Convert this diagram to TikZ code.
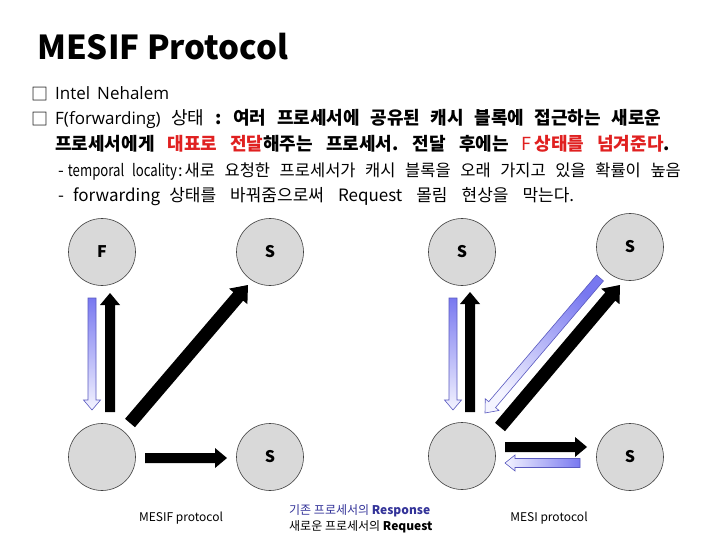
\documentclass[tikz,border=0pt]{standalone}
\usepackage{fontspec}
\usepackage{graphicx}
\setmainfont{Noto Sans CJK KR}
\newfontfamily\latf{Open Sans}
\usetikzlibrary{calc,arrows.meta}
\definecolor{redt}{HTML}{E02020}
\definecolor{respblue}{HTML}{333399}
\definecolor{arrblueD}{HTML}{7878F0}
\definecolor{arrblueL}{HTML}{F4F4FF}
\definecolor{arredge}{HTML}{5A5AC0}
\definecolor{circfill}{HTML}{D9D9D9}
\definecolor{circedge}{HTML}{404040}
% block arrow: #1 style, #2 tail, #3 tip, #4 half shaft, #5 half head, #6 head length (pt)
\newcommand\blockarr[6]{%
  \coordinate (bazneck) at ($(#3)!#6pt!(#2)$);
  \path[#1] ($(#2)!#4pt!90:(#3)$) -- ($(bazneck)!#4pt!90:(#3)$) -- ($(bazneck)!#5pt!90:(#3)$)
    -- (#3) -- ($(bazneck)!#5pt!-90:(#3)$) -- ($(bazneck)!#4pt!-90:(#3)$)
    -- ($(#2)!#4pt!-90:(#3)$) -- cycle;}
\newcommand\wsp[1]{\spaceskip=#1\relax}
\begin{document}
\begin{tikzpicture}[x=1pt,y=-1pt,
  proc/.style={circle, draw=circedge, line width=0.6pt, fill=circfill, minimum size=67pt, inner sep=0pt,
    font=\bfseries\fontsize{16}{16}\selectfont},
  txt/.style={anchor=west, inner sep=0pt},
  blackarr/.style={fill=black},
  bluearr/.style={draw=arredge, line width=0.6pt},
  captxt/.style={inner sep=0pt, font=\fontsize{12}{14}\selectfont}]
\useasboundingbox (0,0) rectangle (720,540);
\fill[white] (0,0) rectangle (720,540);

% title
\node[txt, font=\bfseries\fontsize{33}{40}\selectfont] (title) at (37,47) {MESIF Protocol};

% bullet lines
\node[txt, font=\fontsize{17}{20}\selectfont] (bx1) at (31,94) {□};
\node[txt, font=\latf\fontsize{17}{20}\selectfont] (l1) at (55,93) {Intel\hspace{7pt}Nehalem};
\node[txt, font=\fontsize{17}{20}\selectfont] (bx2) at (31,119) {□};
\node[txt, font=\fontsize{18}{20}\selectfont] (l2) at (55,119)
  {\wsp{10.6pt}{\latf\fontsize{17}{20}\selectfont F(forwarding)} 상태 \textbf{: 여러 프로세서에 공유된 캐시 블록에 접근하는 새로운}};
\node[txt, font=\bfseries\fontsize{18}{20}\selectfont] (l3) at (55,144)
  {\wsp{13pt}프로세서에게 \textcolor{redt}{대표로 전달}해주는 프로세서. 전달 후에는 \textcolor{redt}{{\mdseries F}\hspace{3pt}상태를 넘겨준다}.};
\node[txt, font=\fontsize{16.5}{20}\selectfont] (l4) at (58,172)
  {\wsp{9.6pt}-\hspace{4pt}\scalebox{0.8}[1]{temporal locality}\hspace{1pt}:\hspace{2pt}새로 요청한 프로세서가 캐시 블록을 오래 가지고 있을 확률이 높음};
\node[txt, font=\fontsize{17}{20}\selectfont] (l5) at (58,197)
  {\wsp{14pt}-\hspace{9pt}forwarding\hspace{9pt}상태를 바꿔줌으로써 Request 몰림 현상을 막는다.};

% MESIF circles
\node[proc] (F) at (102,252) {F};
\node[proc] (S1) at (270,252) {S};
\node[proc] (P1) at (102,457) {};
\node[proc] (S2) at (270,457) {S};

% MESI circles
\node[proc] (Sa) at (462,252) {S};
\node[proc] (Sb) at (630,247) {S};
\node[proc] (P2) at (462,456) {};
\node[proc] (Sc) at (630,457) {S};

% MESIF arrows
\coordinate (a1s) at (92,298);  \coordinate (a1e) at (92,410);
\coordinate (a2s) at (110,412); \coordinate (a2e) at (110,293);
\coordinate (a3s) at (130,423); \coordinate (a3e) at (248,285);
\coordinate (a4s) at (145,458); \coordinate (a4e) at (227,458);
\blockarr{bluearr, top color=arrblueD, bottom color=arrblueL}{a1s}{a1e}{4}{8.5}{10}
\blockarr{blackarr}{a2s}{a2e}{5}{10}{12}
\blockarr{blackarr}{a3s}{a3e}{6.5}{12}{15}
\blockarr{blackarr}{a4s}{a4e}{5}{10}{12}

% MESI arrows
\coordinate (b1s) at (453,298); \coordinate (b1e) at (453,410);
\coordinate (b2s) at (470,412); \coordinate (b2e) at (470,292);
\coordinate (b3s) at (600,278); \coordinate (b3e) at (485,413);
\coordinate (b4s) at (500,427); \coordinate (b4e) at (620,285);
\coordinate (b5s) at (505,447); \coordinate (b5e) at (587,447);
\coordinate (b6s) at (580,463); \coordinate (b6e) at (505,463);
\blockarr{bluearr, top color=arrblueD, bottom color=arrblueL}{b1s}{b1e}{4}{8.5}{10}
\blockarr{blackarr}{b2s}{b2e}{5}{10}{12}
\blockarr{bluearr, top color=arrblueD, bottom color=arrblueL, shading angle=-40}{b3s}{b3e}{4.5}{9}{11}
\blockarr{blackarr}{b4s}{b4e}{6.5}{12}{15}
\blockarr{blackarr}{b5s}{b5e}{5}{10}{12}
\blockarr{bluearr, left color=arrblueL, right color=arrblueD}{b6s}{b6e}{4.5}{8}{10}

% captions
\node[captxt] (c1) at (181,518) {MESIF protocol};
\node[captxt] (c2) at (549,518) {MESI protocol};
\node[captxt, anchor=west] (lg1) at (289,511) {\textcolor{respblue}{기존 프로세서의 \textbf{Response}}};
\node[captxt, anchor=west] (lg2) at (289,527) {새로운 프로세서의 \textbf{Request}};
\end{tikzpicture}
\end{document}
